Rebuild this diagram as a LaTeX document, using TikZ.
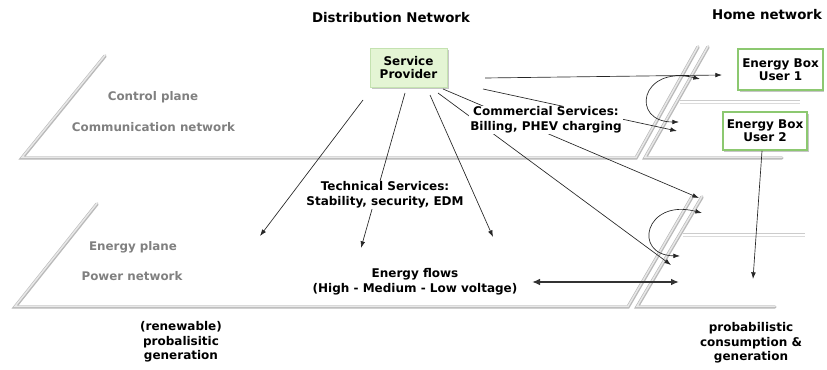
\documentclass[tikz,border=0pt]{standalone}
\usepackage{fontspec}
\setmainfont{DejaVu Sans}
\usetikzlibrary{arrows.meta,shadows}
\definecolor{spfill}{RGB}{228,245,212}
\definecolor{spdraw}{RGB}{196,226,176}
\definecolor{ebdraw}{RGB}{140,200,112}
\definecolor{labgray}{RGB}{128,128,128}
\begin{document}
\begin{tikzpicture}[x=0.75pt,y=-0.75pt,
  txt/.style={font=\fontsize{9}{10.9}\selectfont\bfseries, align=center, inner sep=1pt},
  lab/.style={txt, fill=white},
  graylab/.style={font=\fontsize{8.9}{10.9}\selectfont\bfseries, text=labgray, inner sep=0pt},
  head/.style={font=\fontsize{10}{12}\selectfont\bfseries, inner sep=0pt},
  arr/.style={draw=black!85, line width=0.5pt, -{Latex[length=5pt,width=3.5pt]}},
  darr/.style={draw=black!85, line width=0.5pt, {Latex[length=5pt,width=3.5pt]}-{Latex[length=5pt,width=3.5pt]}},
  bigarr/.style={draw=black!80, line width=1.6pt, {Latex[length=6pt,width=5pt]}-{Latex[length=6pt,width=5pt]}},
  planebase/.style={draw=gray!55, line width=2.6pt, line cap=round},
  planehl/.style={draw=gray!18, line width=1.1pt, line cap=round, transform canvas={yshift=0.5pt}},
  guide/.style={draw=gray!40, line width=0.5pt},
  spbox/.style={txt, fill=spfill, draw=spdraw, line width=0.6pt, minimum width=57.75pt, minimum height=29.25pt,
    drop shadow={shadow xshift=1.2pt, shadow yshift=-1.2pt, fill=gray!45, opacity=1}},
  ebbox/.style={txt, fill=white, draw=ebdraw, line width=1.4pt, minimum width=63.5pt,
    drop shadow={shadow xshift=1.2pt, shadow yshift=-1.2pt, fill=gray!45, opacity=1}}
]
\useasboundingbox (0,0) rectangle (827,370);

% planes
\foreach \s in {planebase, planehl}{
  \draw[\s] (105,56) -- (22,158) -- (636,158) -- (698,47);
  \draw[\s] (708,47) -- (645,158) -- (782,158);
  \draw[\s] (97,204) -- (15,307) -- (628,307) -- (692,197);
  \draw[\s] (702,197) -- (637,307) -- (775,307);
}

% thin guide lines in home network
\draw[guide] (680,100) -- (800,100);
\draw[guide, gray!28] (680,103) -- (800,103);
\draw[guide] (683,233) -- (805,233);
\draw[guide, gray!28] (683,236) -- (805,236);

% headers
\node[head] (hdist) at (391,18) {Distribution Network};
\node[head] (hhome) at (767,15) {Home network};

% boxes
\node[spbox] (sp) at (408.5,67.5) {Service\\[-1pt]Provider};
\node[ebbox, minimum height=30.75pt] (eb1) at (780.5,69.5) {Energy Box\\[-1pt]User 1};
\node[ebbox, minimum height=28.5pt] (eb2) at (765,131) {Energy Box\\[-1pt]User 2};

% plane labels
\node[graylab] (cp) at (153,97) {Control plane};
\node[graylab] (cn) at (153.5,127) {Communication network};
\node[graylab] (ep) at (133,247) {Energy plane};
\node[graylab] (pn) at (132,276) {Power network};

% arrow coordinates
\coordinate (s1) at (363,100); \coordinate (t1) at (260,236);
\coordinate (s2) at (405,93);  \coordinate (t2) at (361,248);
\coordinate (s3) at (430,95);  \coordinate (t3) at (493,237);
\coordinate (s4) at (438,93);  \coordinate (t4) at (671,265);
\coordinate (s5) at (443,89);  \coordinate (t5) at (699,198);
\coordinate (s6) at (483,89);  \coordinate (t6) at (677,131);
\coordinate (s7) at (485,78);  \coordinate (t7) at (722,75);
\coordinate (t8) at (753,279);
\coordinate (c1a) at (700,79); \coordinate (c1b) at (679,122);
\coordinate (c2a) at (702,213); \coordinate (c2b) at (680,256);
\coordinate (f1) at (532,282); \coordinate (f2) at (679,282);

% arrows
\draw[arr] (s1) -- (t1);
\draw[arr] (s2) -- (t2);
\draw[arr] (s3) -- (t3);
\draw[arr] (s4) -- (t4);
\draw[arr] (s5) -- (t5);
\draw[arr] (s6) -- (t6);
\draw[arr] (s7) -- (t7);
\draw[arr] ([xshift=-2.25pt]eb2.south) -- (t8);
\draw[darr] (c1a) .. controls (640,65) and (630,122) .. (c1b);
\draw[darr] (c2a) .. controls (645,198) and (632,255) .. (c2b);
\draw[bigarr] (f1) -- (f2);

% labels over the lines
\node[lab] (comm) at (546,120) {Commercial Services:\\Billing, PHEV charging};
\node[lab] (tech) at (385,195) {Technical Services:\\Stability, security, EDM};
\node[txt] (flows) at (415,282) {Energy flows\\(High - Medium - Low voltage)};
\node[txt] (gen) at (181,342) {(renewable)\\probalisitic\\generation};
\node[txt] (cons) at (751,343) {probabilistic\\consumption \&\\generation};
\end{tikzpicture}
\end{document}
